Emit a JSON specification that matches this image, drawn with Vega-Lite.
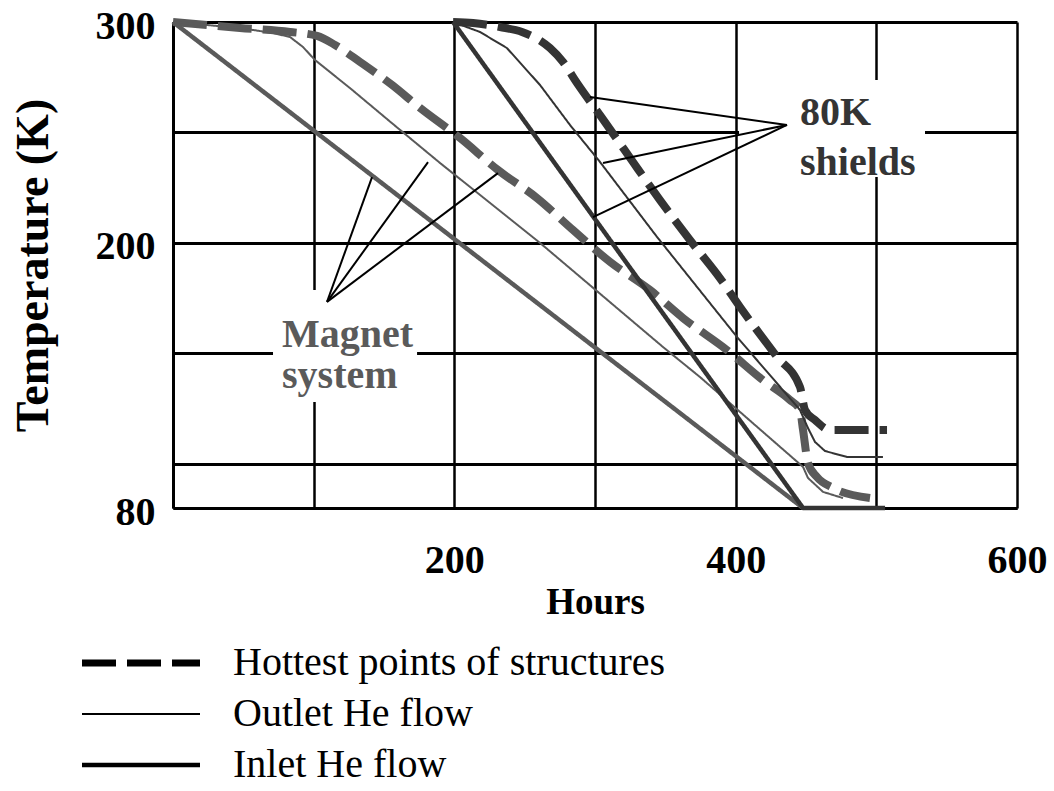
{
  "$schema": "https://vega.github.io/schema/vega-lite/v6.json",
  "width": 844,
  "height": 486,
  "autosize": "none",
  "padding": {"left": 173, "top": 22, "right": 37, "bottom": 283},
  "background": "white",
  "config": {"view": {"stroke": null}, "font": "Liberation Serif"},
  "datasets": {
    "lines": [
      {"s": "Magnet system", "f": "Hottest points of structures", "h": 0, "T": 300},
      {"s": "Magnet system", "f": "Hottest points of structures", "h": 47.6, "T": 297.3},
      {"s": "Magnet system", "f": "Hottest points of structures", "h": 83.2, "T": 295.5},
      {"s": "Magnet system", "f": "Hottest points of structures", "h": 102.4, "T": 293.7},
      {"s": "Magnet system", "f": "Hottest points of structures", "h": 115.2, "T": 289.6},
      {"s": "Magnet system", "f": "Hottest points of structures", "h": 133.0, "T": 281.9},
      {"s": "Magnet system", "f": "Hottest points of structures", "h": 155.7, "T": 271.5},
      {"s": "Magnet system", "f": "Hottest points of structures", "h": 175.6, "T": 261.1},
      {"s": "Magnet system", "f": "Hottest points of structures", "h": 204.0, "T": 247.5},
      {"s": "Magnet system", "f": "Hottest points of structures", "h": 231.0, "T": 233.0},
      {"s": "Magnet system", "f": "Hottest points of structures", "h": 258.8, "T": 220.3},
      {"s": "Magnet system", "f": "Hottest points of structures", "h": 284.4, "T": 205.8},
      {"s": "Magnet system", "f": "Hottest points of structures", "h": 310.7, "T": 191.4},
      {"s": "Magnet system", "f": "Hottest points of structures", "h": 339.1, "T": 178.7},
      {"s": "Magnet system", "f": "Hottest points of structures", "h": 362.6, "T": 166.0},
      {"s": "Magnet system", "f": "Hottest points of structures", "h": 393.8, "T": 151.5},
      {"s": "Magnet system", "f": "Hottest points of structures", "h": 419.4, "T": 137.9},
      {"s": "Magnet system", "f": "Hottest points of structures", "h": 438.6, "T": 128.9},
      {"s": "Magnet system", "f": "Hottest points of structures", "h": 445.7, "T": 124.4},
      {"s": "Magnet system", "f": "Hottest points of structures", "h": 447.9, "T": 115.3},
      {"s": "Magnet system", "f": "Hottest points of structures", "h": 451.4, "T": 100.4},
      {"s": "Magnet system", "f": "Hottest points of structures", "h": 457.8, "T": 94.0},
      {"s": "Magnet system", "f": "Hottest points of structures", "h": 469.2, "T": 89.1},
      {"s": "Magnet system", "f": "Hottest points of structures", "h": 495.5, "T": 84.5},
      {"s": "Magnet system", "f": "Outlet He flow", "h": 0, "T": 300},
      {"s": "Magnet system", "f": "Outlet He flow", "h": 47.6, "T": 297.3},
      {"s": "Magnet system", "f": "Outlet He flow", "h": 71.1, "T": 295.0},
      {"s": "Magnet system", "f": "Outlet He flow", "h": 83.2, "T": 293.2},
      {"s": "Magnet system", "f": "Outlet He flow", "h": 92.4, "T": 288.7},
      {"s": "Magnet system", "f": "Outlet He flow", "h": 100.9, "T": 282.8},
      {"s": "Magnet system", "f": "Outlet He flow", "h": 125.8, "T": 270.1},
      {"s": "Magnet system", "f": "Outlet He flow", "h": 156.4, "T": 253.8},
      {"s": "Magnet system", "f": "Outlet He flow", "h": 189.8, "T": 236.2},
      {"s": "Magnet system", "f": "Outlet He flow", "h": 260.9, "T": 200.0},
      {"s": "Magnet system", "f": "Outlet He flow", "h": 348.3, "T": 152.9},
      {"s": "Magnet system", "f": "Outlet He flow", "h": 374.6, "T": 139.3},
      {"s": "Magnet system", "f": "Outlet He flow", "h": 447.9, "T": 98.6},
      {"s": "Magnet system", "f": "Outlet He flow", "h": 451.4, "T": 93.6},
      {"s": "Magnet system", "f": "Outlet He flow", "h": 462.1, "T": 87.3},
      {"s": "Magnet system", "f": "Outlet He flow", "h": 476.3, "T": 84.5},
      {"s": "Magnet system", "f": "Inlet He flow", "h": 0, "T": 300},
      {"s": "Magnet system", "f": "Inlet He flow", "h": 447.9, "T": 80},
      {"s": "80K shields", "f": "Hottest points of structures", "h": 199.1, "T": 300},
      {"s": "80K shields", "f": "Hottest points of structures", "h": 213.3, "T": 299.5},
      {"s": "80K shields", "f": "Hottest points of structures", "h": 232.5, "T": 297.7},
      {"s": "80K shields", "f": "Hottest points of structures", "h": 248.1, "T": 295.5},
      {"s": "80K shields", "f": "Hottest points of structures", "h": 268.0, "T": 288.2},
      {"s": "80K shields", "f": "Hottest points of structures", "h": 277.3, "T": 281.9},
      {"s": "80K shields", "f": "Hottest points of structures", "h": 287.2, "T": 272.4},
      {"s": "80K shields", "f": "Hottest points of structures", "h": 307.1, "T": 254.7},
      {"s": "80K shields", "f": "Hottest points of structures", "h": 327.0, "T": 236.6},
      {"s": "80K shields", "f": "Hottest points of structures", "h": 346.2, "T": 219.4},
      {"s": "80K shields", "f": "Hottest points of structures", "h": 367.5, "T": 201.3},
      {"s": "80K shields", "f": "Hottest points of structures", "h": 388.8, "T": 184.1},
      {"s": "80K shields", "f": "Hottest points of structures", "h": 403.1, "T": 171.0},
      {"s": "80K shields", "f": "Hottest points of structures", "h": 429.4, "T": 148.4},
      {"s": "80K shields", "f": "Hottest points of structures", "h": 445.7, "T": 134.8},
      {"s": "80K shields", "f": "Hottest points of structures", "h": 449.3, "T": 124.4},
      {"s": "80K shields", "f": "Hottest points of structures", "h": 456.4, "T": 119.8},
      {"s": "80K shields", "f": "Hottest points of structures", "h": 467.1, "T": 115.3},
      {"s": "80K shields", "f": "Hottest points of structures", "h": 507.6, "T": 115.3},
      {"s": "80K shields", "f": "Outlet He flow", "h": 199.1, "T": 300},
      {"s": "80K shields", "f": "Outlet He flow", "h": 218.2, "T": 295.5},
      {"s": "80K shields", "f": "Outlet He flow", "h": 237.4, "T": 288.2},
      {"s": "80K shields", "f": "Outlet He flow", "h": 260.9, "T": 271.5},
      {"s": "80K shields", "f": "Outlet He flow", "h": 282.2, "T": 253.4},
      {"s": "80K shields", "f": "Outlet He flow", "h": 303.6, "T": 236.6},
      {"s": "80K shields", "f": "Outlet He flow", "h": 344.1, "T": 202.7},
      {"s": "80K shields", "f": "Outlet He flow", "h": 401.0, "T": 157.4},
      {"s": "80K shields", "f": "Outlet He flow", "h": 445.7, "T": 124.4},
      {"s": "80K shields", "f": "Outlet He flow", "h": 451.4, "T": 116.2},
      {"s": "80K shields", "f": "Outlet He flow", "h": 456.4, "T": 109.9},
      {"s": "80K shields", "f": "Outlet He flow", "h": 463.5, "T": 105.8},
      {"s": "80K shields", "f": "Outlet He flow", "h": 479.1, "T": 103.1},
      {"s": "80K shields", "f": "Outlet He flow", "h": 504.7, "T": 103.1},
      {"s": "80K shields", "f": "Inlet He flow", "h": 199.1, "T": 300},
      {"s": "80K shields", "f": "Inlet He flow", "h": 447.9, "T": 80},
      {"s": "80K shields", "f": "Inlet He flow", "h": 506.2, "T": 80}
    ],
    "boxes": [
      {"h": 402.4, "h2": 534.6, "T": 273.7, "T2": 229.8},
      {"h": 71.1, "h2": 173.5, "T": 178.7, "T2": 128.0}
    ],
    "pointers": [
      {"g": "80K shields", "h": 436.5, "T": 253.4, "h2": 296.4, "T2": 266.0},
      {"g": "80K shields", "h": 436.5, "T": 253.4, "h2": 305.7, "T2": 236.2},
      {"g": "80K shields", "h": 436.5, "T": 253.4, "h2": 298.6, "T2": 211.7},
      {"g": "Magnet system", "h": 109.5, "T": 173.3, "h2": 141.5, "T2": 229.8},
      {"g": "Magnet system", "h": 109.5, "T": 173.3, "h2": 181.3, "T2": 236.6},
      {"g": "Magnet system", "h": 109.5, "T": 173.3, "h2": 231.0, "T2": 231.6}
    ],
    "labels": [
      {"txt": "80K", "g": "80K shields", "h": 445.7, "T": 253.4},
      {"txt": "shields", "g": "80K shields", "h": 445.7, "T": 230.7},
      {"txt": "Magnet", "g": "Magnet system", "h": 77.5, "T": 152.9},
      {"txt": "system", "g": "Magnet system", "h": 77.5, "T": 134.3}
    ]
  },
  "encoding": {
    "x": {
      "field": "h", "type": "quantitative",
      "scale": {"domain": [0, 600], "nice": false},
      "axis": {
        "values": [0, 100, 200, 300, 400, 500, 600],
        "labelExpr": "datum.value == 200 || datum.value == 400 || datum.value == 600 ? datum.label : ''",
        "grid": true, "gridColor": "black", "gridWidth": 2.5, "gridOpacity": 1,
        "domainColor": "black", "domainWidth": 3, "ticks": false,
        "labelFont": "Liberation Serif", "labelFontSize": 40, "labelFontWeight": "bold", "labelColor": "black",
        "labelPadding": 32, "labelFlush": false,
        "title": "Hours", "titleFont": "Liberation Serif", "titleFontSize": 37, "titleFontWeight": "bold", "titleColor": "black", "titlePadding": 4
      }
    },
    "y": {
      "field": "T", "type": "quantitative",
      "scale": {"domain": [80, 300], "nice": false, "zero": false},
      "axis": {
        "values": [80, 100, 150, 200, 250, 300],
        "labelExpr": "datum.value == 80 || datum.value == 200 || datum.value == 300 ? datum.label : ''",
        "grid": true, "gridColor": "black", "gridWidth": 3, "gridOpacity": 1,
        "domainColor": "black", "domainWidth": 3, "ticks": false,
        "labelFont": "Liberation Serif", "labelFontSize": 40, "labelFontWeight": "bold", "labelColor": "black",
        "labelPadding": 18, "labelFlush": false, "labelOffset": 4,
        "title": "Temperature (K)", "titleFont": "Liberation Serif", "titleFontSize": 46, "titleFontWeight": "bold", "titleColor": "black", "titlePadding": 38
      }
    }
  },
  "layer": [
    {
      "data": {"name": "boxes"},
      "mark": {"type": "rect", "color": "white"},
      "encoding": {
        "x2": {"field": "h2"},
        "y2": {"field": "T2"}
      }
    },
    {
      "data": {"name": "lines"},
      "transform": [{"filter": "datum.f == 'Hottest points of structures'"}],
      "mark": {"type": "line", "strokeCap": "butt", "strokeJoin": "round", "interpolate": "monotone", "strokeWidth": 8},
      "encoding": {
        "color": {
          "field": "s", "type": "nominal",
          "scale": {"domain": ["Magnet system", "80K shields"], "range": ["#5a5a5a", "#343434"]},
          "legend": null
        },
        "strokeDash": {
          "field": "f", "type": "nominal",
          "scale": {"domain": ["Hottest points of structures", "Outlet He flow", "Inlet He flow"], "range": [[34, 11], [1, 0], [1, 0]]},
          "legend": {
            "title": null, "orient": "none", "legendX": -52, "legendY": 621, "direction": "vertical",
            "symbolType": "M-5.9,0H5.9", "symbolSize": 400, "symbolStrokeColor": "black",
            "labelFont": "Liberation Serif", "labelFontSize": 40, "labelColor": "black", "labelOffset": 72,
            "rowPadding": 11, "padding": 0, "labelLimit": 0,
            "encode": {"symbols": {"update": {
              "stroke": {"value": "black"},
              "strokeWidth": {"signal": "datum.value == 'Hottest points of structures' ? 7 : datum.value == 'Outlet He flow' ? 2 : 4.5"}
            }}}
          }
        }
      }
    },
    {
      "data": {"name": "lines"},
      "transform": [{"filter": "datum.f != 'Hottest points of structures'"}],
      "mark": {"type": "line", "strokeCap": "butt", "strokeJoin": "round"},
      "encoding": {
        "color": {
          "field": "s", "type": "nominal",
          "scale": {"domain": ["Magnet system", "80K shields"], "range": ["#5a5a5a", "#343434"]},
          "legend": null
        },
        "strokeWidth": {
          "condition": {"test": "datum.f == 'Outlet He flow'", "value": 2},
          "value": 4.5
        },
        "strokeDash": {
          "field": "f", "type": "nominal",
          "scale": {"domain": ["Hottest points of structures", "Outlet He flow", "Inlet He flow"], "range": [[34, 11], [1, 0], [1, 0]]},
          "legend": {
            "title": null, "orient": "none", "legendX": -52, "legendY": 621, "direction": "vertical",
            "symbolType": "M-5.9,0H5.9", "symbolSize": 400, "symbolStrokeColor": "black",
            "labelFont": "Liberation Serif", "labelFontSize": 40, "labelColor": "black", "labelOffset": 72,
            "rowPadding": 11, "padding": 0, "labelLimit": 0,
            "encode": {"symbols": {"update": {
              "stroke": {"value": "black"},
              "strokeWidth": {"signal": "datum.value == 'Hottest points of structures' ? 7 : datum.value == 'Outlet He flow' ? 2 : 4.5"}
            }}}
          }
        }
      }
    },
    {
      "data": {"name": "pointers"},
      "mark": {"type": "rule", "color": "black", "strokeWidth": 2},
      "encoding": {
        "x2": {"field": "h2"},
        "y2": {"field": "T2"}
      }
    },
    {
      "data": {"name": "labels"},
      "mark": {"type": "text", "align": "left", "baseline": "alphabetic", "font": "Liberation Serif", "fontSize": 40, "fontWeight": "bold"},
      "encoding": {
        "text": {"field": "txt"},
        "color": {
          "field": "g", "type": "nominal",
          "scale": {"domain": ["Magnet system", "80K shields"], "range": ["#5a5a5a", "#343434"]},
          "legend": null
        }
      }
    }
  ]
}
